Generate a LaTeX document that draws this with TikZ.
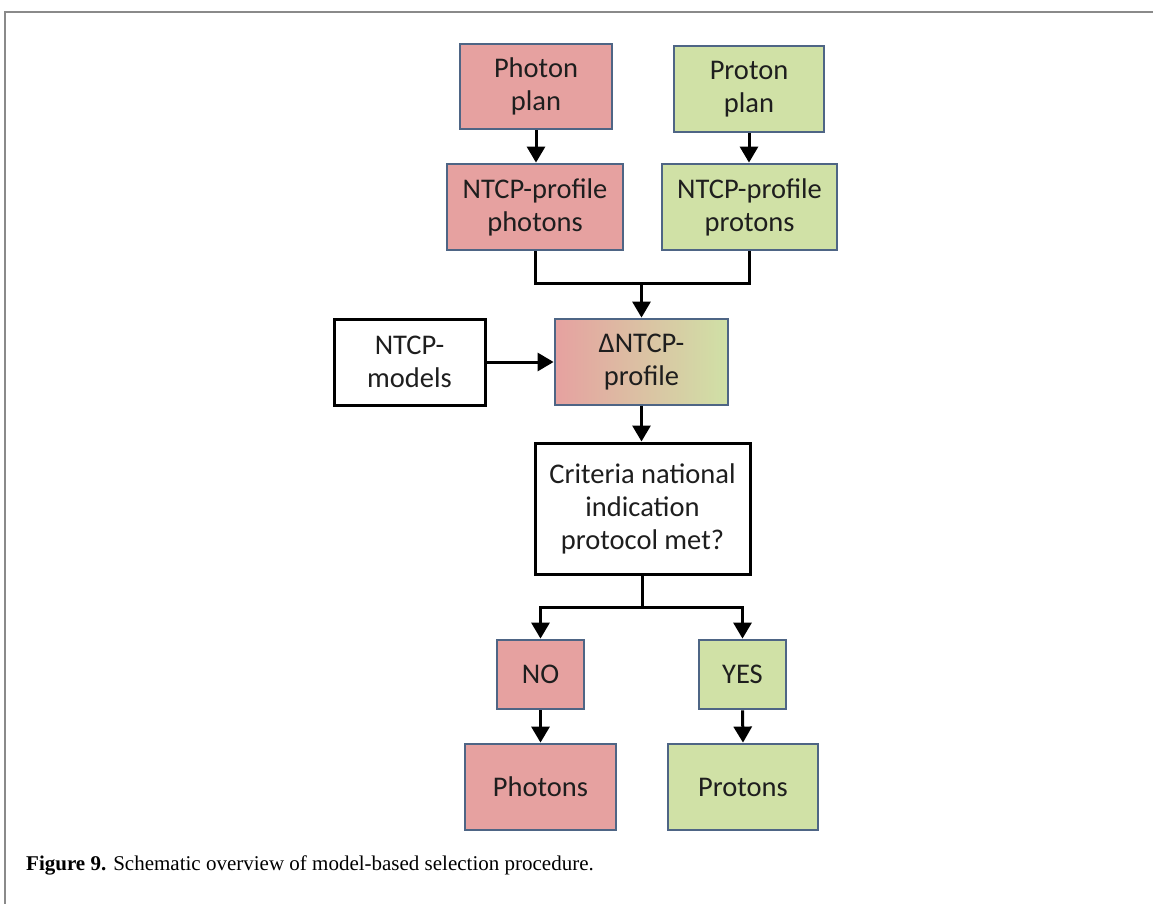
\documentclass[tikz,border=0pt]{standalone}
\usepackage{fontspec}
\setmainfont{Liberation Serif}
\newfontfamily\boxfont{Carlito}
\usetikzlibrary{arrows.meta}
\definecolor{pinkfill}{HTML}{E6A1A0}
\definecolor{greenfill}{HTML}{D0E1A6}
\definecolor{boxedge}{HTML}{4E6585}
\definecolor{framegray}{HTML}{8A8A8A}
\definecolor{boxtext}{HTML}{1E1E1E}
\tikzset{
  basebox/.style={rectangle, align=center, inner sep=0pt, text=boxtext,
    font=\boxfont\fontsize{28.5}{33}\selectfont},
  pinkbox/.style={basebox, draw=boxedge, line width=2.8pt, fill=pinkfill},
  greenbox/.style={basebox, draw=boxedge, line width=2.8pt, fill=greenfill},
  gradbox/.style={basebox, draw=boxedge, line width=2.8pt, left color=pinkfill, right color=greenfill},
  whitebox/.style={basebox, draw=black, line width=3pt, fill=white},
  conn/.style={draw=black, line width=3pt, -{Triangle[width=18pt,length=16pt]}},
  plainconn/.style={draw=black, line width=3pt},
  wh/.style n args={2}{minimum width=#1pt, minimum height=#2pt}
}
\begin{document}
\begin{tikzpicture}[x=1pt, y=-1pt]
\useasboundingbox (0,0) rectangle (1153,904);
\fill[white] (0,0) rectangle (1153,904);
% frame
\draw[framegray, line width=2pt] (5,904) -- (5,12) -- (1153,12);
% boxes
\node[pinkbox, wh={152}{85}] (pplan) at (536,86.5) {Photon\\plan};
\node[greenbox, wh={150}{86}] (prplan) at (749,89) {Proton\\plan};
\node[pinkbox, wh={176}{86}] (pprof) at (535,207) {NTCP-profile\\photons};
\node[greenbox, wh={175}{86}] (prprof) at (749.5,207) {NTCP-profile\\protons};
\node[whitebox, wh={151}{86}] (models) at (409.5,362) {NTCP-\\models};
\node[gradbox, wh={173}{86}] (delta) at (641.5,362) {ΔNTCP-\\profile};
\node[whitebox, wh={215}{131}] (crit) at (642.5,508.5) {Criteria national\\indication\\protocol met?};
\node[pinkbox, wh={87}{69}] (no) at (540.5,674.5) {NO};
\node[greenbox, wh={87}{69}] (yes) at (742.5,674.5) {YES};
\node[pinkbox, wh={151}{86}] (photons) at (540.5,787) {Photons};
\node[greenbox, wh={150}{86}] (protons) at (743,787) {Protons};
% helper coordinates
\coordinate (merge) at (641.5,283);
\coordinate (split) at (642.5,607);
% connectors
\draw[conn] (pplan.south) -- (pplan.south |- pprof.north);
\draw[conn] (prplan.south) -- (prplan.south |- prprof.north);
\draw[plainconn] (pprof.south) |- (merge) -| (prprof.south);
\draw[conn] (merge) -- (delta.north);
\draw[conn] (models.east) -- (delta.west);
\draw[conn] (delta.south) -- (delta.south |- crit.north);
\draw[plainconn] (crit.south) -- (split);
\draw[conn] (split) -| (no.north);
\draw[conn] (split) -| (yes.north);
\draw[conn] (no.south) -- (photons.north);
\draw[conn] (yes.south) -- (protons.north);
% caption
\node[anchor=base west, inner sep=0pt, font=\fontsize{21}{25}\selectfont] (cap) at (26,870)
  {\textbf{Figure 9.} Schematic overview of model-based selection procedure.};
\end{tikzpicture}
\end{document}
